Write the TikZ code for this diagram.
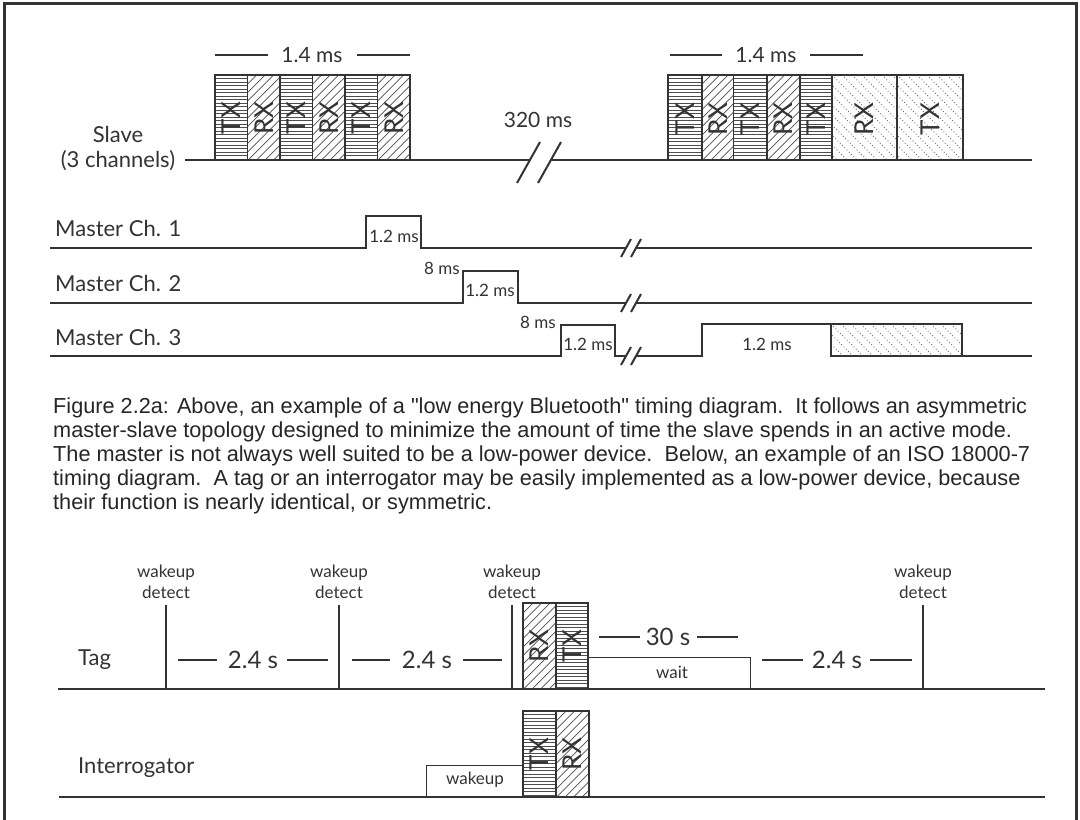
\documentclass[tikz,border=0pt]{standalone}
\usepackage{fontspec}
\setmainfont{Lato}
\newfontfamily\capfont{Liberation Sans}
\definecolor{ink}{HTML}{333333}
\definecolor{hatchc}{HTML}{4D4D4D}
\definecolor{dotc}{HTML}{6E6E6E}
\tikzset{
  wave/.style={draw=ink, line width=2pt, line join=miter},
  cellbox/.style={draw=ink, line width=1.3pt},
  thinbox/.style={draw=ink, line width=1pt},
  hatchline/.style={draw=hatchc, line width=0.7pt},
  dotline/.style={draw=dotc, line width=0.9pt, dash pattern=on 0.9pt off 2.3pt},
  dimline/.style={draw=ink, line width=1.2pt},
  rowlbl/.style={text=ink, font=\fontsize{22}{26}\selectfont, inner sep=0pt},
  midlbl/.style={text=ink, font=\fontsize{21}{24}\selectfont, inner sep=0pt},
  durlbl/.style={text=ink, font=\fontsize{24}{28}\selectfont, inner sep=0pt},
  smalllbl/.style={text=ink, font=\fontsize{17}{21}\selectfont, inner sep=0pt, align=center},
  celllbl/.style={text=ink, font=\fontsize{26}{28}\selectfont, rotate=90, inner sep=0pt},
  caption/.style={text=black!85, font=\capfont\fontsize{21.7}{24}\selectfont, anchor=base west, inner sep=0pt},
}
% horizontal hatch (TX)
\newcommand{\hfillbox}[4]{%
  \begin{scope}\clip (#1,#2) rectangle (#3,#4);
  \foreach \k in {1,...,45} \draw[hatchline] (#1,#2+\k*3.5) -- (#3,#2+\k*3.5);
  \end{scope}}
% diagonal hatch (RX)
\newcommand{\dfillbox}[4]{%
  \begin{scope}\clip (#1,#2) rectangle (#3,#4);
  \foreach \k in {0,...,45} \draw[hatchline] (#1-110+\k*8.5,#4) -- ++(110,-110);
  \end{scope}}
% dotted back-diagonal hatch
\newcommand{\sfillbox}[4]{%
  \begin{scope}\clip (#1,#2) rectangle (#3,#4);
  \foreach \k in {0,...,40} \draw[dotline] (#1-140+\k*10,#2) -- ++(140,140);
  \end{scope}}
\begin{document}
\begin{tikzpicture}[x=1pt,y=-1pt]
\useasboundingbox (0,0) rectangle (1080,820);
\fill[white] (0,0) rectangle (1080,820);
% frame
\draw[draw=ink, line width=3pt] (4,830) -- (4,3) -- (1076,3) -- (1076,830);

% ================= Slave =================
\node[rowlbl] (slave) at (118,134) {Slave};
\node[rowlbl] (slave3) at (118,161) {(3 channels)};
% block 1
\hfillbox{215}{75}{247.5}{160}
\dfillbox{247.5}{75}{280}{160}
\hfillbox{280}{75}{312.5}{160}
\dfillbox{312.5}{75}{345}{160}
\hfillbox{345}{75}{377.5}{160}
\dfillbox{377.5}{75}{410}{160}
\foreach \xa/\xb in {215/247.5,247.5/280,280/312.5,312.5/345,345/377.5,377.5/410}
  \draw[cellbox] (\xa,75) rectangle (\xb,160);
\node[celllbl] (s1a) at (231.25,118) {TX};
\node[celllbl] (s1b) at (263.75,118) {RX};
\node[celllbl] (s1c) at (296.25,118) {TX};
\node[celllbl] (s1d) at (328.75,118) {RX};
\node[celllbl] (s1e) at (361.25,118) {TX};
\node[celllbl] (s1f) at (393.75,118) {RX};
% block 2
\hfillbox{668}{75}{702}{160}
\dfillbox{702}{75}{733.5}{160}
\hfillbox{733.5}{75}{767}{160}
\dfillbox{767}{75}{800}{160}
\hfillbox{800}{75}{832}{160}
\sfillbox{832}{75}{897}{160}
\sfillbox{897}{75}{963}{160}
\foreach \xa/\xb in {668/702,702/733.5,733.5/767,767/800,800/832,832/897,897/963}
  \draw[cellbox] (\xa,75) rectangle (\xb,160);
\node[celllbl] (s2a) at (685,119) {TX};
\node[celllbl] (s2b) at (717.75,119) {RX};
\node[celllbl] (s2c) at (750.25,119) {TX};
\node[celllbl] (s2d) at (783.5,119) {RX};
\node[celllbl] (s2e) at (816,119) {TX};
\node[celllbl] (s2f) at (864.5,119) {RX};
\node[celllbl] (s2g) at (930,119) {TX};
% slave waveform
\draw[wave] (185,160) -- (215,160) -- (215,75) -- (410,75) -- (410,160) -- (529,160);
\draw[wave] (550,160) -- (668,160) -- (668,75) -- (963,75) -- (963,160) -- (1032,160);
\draw[wave] (517,183) -- (540,142);
\draw[wave] (538,183) -- (561,142);
\node[midlbl] (t320) at (538,120) {320 ms};
% 1.4 ms dimensions
\node[midlbl] (d1) at (312,55) {1.4 ms};
\draw[dimline] (215,55) -- (268,55);
\draw[dimline] (357,55) -- (410,55);
\node[midlbl] (d2) at (766,55) {1.4 ms};
\draw[dimline] (670,55) -- (722,55);
\draw[dimline] (810,55) -- (863,55);

% ================= Master =================
\node[rowlbl, anchor=west] (m1) at (55,228) {Master Ch. 1};
\node[rowlbl, anchor=west] (m2) at (55,283) {Master Ch. 2};
\node[rowlbl, anchor=west] (m3) at (55,337) {Master Ch. 3};
% ch1
\draw[wave] (50,248) -- (366,248) -- (366,216) -- (421,216) -- (421,248) -- (626,248);
\draw[wave] (636,248) -- (1032,248);
\draw[wave] (621,257) -- (631,239);
\draw[wave] (631,257) -- (641,239);
\node[smalllbl] (p1) at (394,236) {1.2 ms};
% ch2
\draw[wave] (50,303) -- (463,303) -- (463,271) -- (518,271) -- (518,303) -- (626,303);
\draw[wave] (636,303) -- (1032,303);
\draw[wave] (621,312) -- (631,294);
\draw[wave] (631,312) -- (641,294);
\node[smalllbl] (e2) at (442,268) {8 ms};
\node[smalllbl] (p2) at (490,290) {1.2 ms};
% ch3
\sfillbox{831}{324}{962}{356}
\draw[wave] (831,324) rectangle (962,356);
\draw[wave] (50,356) -- (561,356) -- (561,325) -- (615,325) -- (615,356) -- (626,356);
\draw[wave] (636,356) -- (702,356) -- (702,324) -- (962,324) -- (962,356) -- (1032,356);
\draw[wave] (621,365) -- (631,347);
\draw[wave] (631,365) -- (641,347);
\node[smalllbl] (e3) at (538,322) {8 ms};
\node[smalllbl] (p3) at (588,344) {1.2 ms};
\node[smalllbl] (p4) at (767,344) {1.2 ms};

% ================= Caption =================
\node[caption] (c1) at (53,413) {Figure 2.2a: Above, an example of a "low energy Bluetooth" timing diagram.\ \ It follows an asymmetric};
\node[caption] (c2) at (53,437) {master-slave topology designed to minimize the amount of time the slave spends in an active mode.};
\node[caption] (c3) at (53,461) {The master is not always well suited to be a low-power device.\ \ Below, an example of an ISO 18000-7};
\node[caption] (c4) at (53,485) {timing diagram.\ \ A tag or an interrogator may be easily implemented as a low-power device, because};
\node[caption] (c5) at (53,509) {their function is nearly identical, or symmetric.};

% ================= Tag =================
\node[rowlbl, anchor=west] (tag) at (78,660) {Tag};
\foreach \xx/\nm in {166/w1,339/w2,512/w3,923/w4}{
  \node[smalllbl] (\nm) at (\xx,582) {wakeup\\detect};
  \draw[wave] (\xx,605) -- (\xx,689);
}
\dfillbox{523}{603}{556}{689}
\hfillbox{556}{603}{588}{689}
\draw[cellbox] (523,603) rectangle (556,689);
\draw[cellbox] (556,603) rectangle (588,689);
\node[celllbl] (tr) at (539.5,646) {RX};
\node[celllbl] (tt) at (572,646) {TX};
\draw[thinbox] (588,657) rectangle (750,689);
\node[smalllbl] (wait) at (672,672) {wait};
\draw[wave] (58,689) -- (1045,689);
\node[durlbl] (g1) at (253,660) {2.4 s};
\draw[dimline] (178,660) -- (217,660);
\draw[dimline] (287,660) -- (328,660);
\node[durlbl] (g2) at (427,660) {2.4 s};
\draw[dimline] (352,660) -- (390,660);
\draw[dimline] (463,660) -- (502,660);
\node[durlbl] (g3) at (837,660) {2.4 s};
\draw[dimline] (762,660) -- (803,660);
\draw[dimline] (870,660) -- (912,660);
\node[durlbl] (g4) at (668,637) {30 s};
\draw[dimline] (599,637) -- (640,637);
\draw[dimline] (697,637) -- (738,637);

% ================= Interrogator =================
\node[rowlbl, anchor=west] (intg) at (78,768) {Interrogator};
\draw[thinbox] (426,765) rectangle (523,797);
\node[smalllbl] (wk) at (475,780) {wakeup};
\hfillbox{523}{711}{556}{797}
\dfillbox{556}{711}{589}{797}
\draw[cellbox] (523,711) rectangle (556,797);
\draw[cellbox] (556,711) rectangle (589,797);
\node[celllbl] (it) at (539.5,754) {TX};
\node[celllbl] (ir) at (572.5,754) {RX};
\draw[wave] (59,797) -- (1045,797);
\end{tikzpicture}
\end{document}
